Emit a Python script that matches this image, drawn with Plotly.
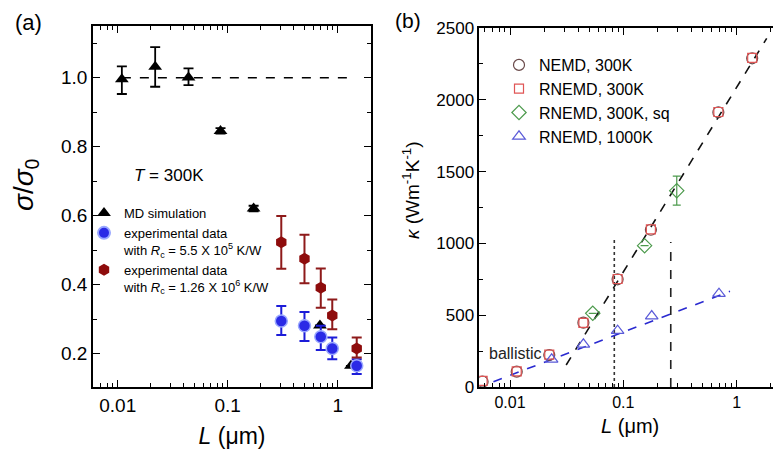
import plotly.graph_objects as go
import numpy as np

OFF = 8  # default page body margin in the browser
W, H = 781 - OFF, 454 - OFF
FONT = "Liberation Sans, Arial, sans-serif"

# ---------------- Panel (a) data ----------------
md_L = [0.0109, 0.0219, 0.044, 0.086, 0.172, 0.69, 1.32]
md_s = [0.996, 1.032, 1.001, 0.846, 0.621, 0.282, 0.165]
md_ep = [0.037, 0.057, 0.026, 0.008, 0.008, 0.0, 0.0]
md_em = [0.043, 0.058, 0.022, 0.008, 0.008, 0.0, 0.0]

exp1_L = [0.307, 0.499, 0.702, 0.893, 1.49]
exp1_s = [0.295, 0.281, 0.249, 0.215, 0.165]
exp1_ep = [0.043, 0.040, 0.032, 0.032, 0.019]
exp1_em = [0.041, 0.044, 0.038, 0.031, 0.024]

exp2_L = [0.307, 0.499, 0.702, 0.893, 1.49]
exp2_s = [0.523, 0.475, 0.391, 0.311, 0.215]
exp2_ep = [0.076, 0.070, 0.056, 0.046, 0.032]
exp2_em = [0.077, 0.071, 0.058, 0.040, 0.026]

ref_L = [0.0109, 1.38]
ref_s = [1.0, 1.0]

# ---------------- Panel (b) data ----------------
nemd_L = [0.00573, 0.01146, 0.0222, 0.0444, 0.089, 0.175, 0.689, 1.37]
nemd_k = [37, 107, 223, 448, 750, 1095, 1913, 2289]
rnemd_L = [0.00573, 0.01146, 0.0222, 0.0444, 0.089, 0.175, 0.689, 1.37]
rnemd_k = [42, 109, 225, 446, 752, 1098, 1915, 2292]
sq_L = [0.0537, 0.154, 0.296]
sq_k = [513, 984, 1367]
sq_err_p = [0, 0, 102]
sq_err_m = [0, 0, 100]
hot_L = [0.0233, 0.0444, 0.089, 0.178, 0.698]
hot_k = [193, 297, 392, 494, 650]

fit300_L = [0.0313, 1.84]
fit300_k = [153, 2428]
fit1000_L = [0.00714, 0.873]
fit1000_k = [37, 666]

dotted_L = [0.0832, 0.0832]
dotted_k = [0, 1025]
dashed_L = [0.262, 0.262]
dashed_k = [0, 1010]


def px(x):
    return (x - OFF) / W


def py(y):
    return 1 - (y - OFF) / H


fig = go.Figure()

# ---- panel (a) traces ----
fig.add_trace(go.Scatter(x=ref_L, y=ref_s, mode="lines", xaxis="x", yaxis="y",
                         line=dict(color="black", width=1.6, dash="dash"),
                         showlegend=False, hoverinfo="skip"))
fig.add_trace(go.Scatter(
    x=md_L, y=md_s, mode="markers", xaxis="x", yaxis="y",
    name="MD simulation", legend="legend",
    marker=dict(symbol="triangle-up", size=12, color="black"),
    error_y=dict(type="data", symmetric=False, array=md_ep, arrayminus=md_em,
                 color="black", thickness=1.8, width=5)))
fig.add_trace(go.Scatter(
    x=exp1_L, y=exp1_s, mode="markers", xaxis="x", yaxis="y",
    name="experimental data<br>with <i>R</i><sub>c</sub> = 5.5 X 10<sup>5</sup> K/W",
    legend="legend",
    marker=dict(symbol="circle", size=12, color="#2a2ae6",
                line=dict(color="#9aa8ff", width=1.5)),
    error_y=dict(type="data", symmetric=False, array=exp1_ep, arrayminus=exp1_em,
                 color="#1c1cd8", thickness=2, width=5)))
fig.add_trace(go.Scatter(
    x=exp2_L, y=exp2_s, mode="markers", xaxis="x", yaxis="y",
    name="experimental data<br>with <i>R</i><sub>c</sub> = 1.26 X 10<sup>6</sup> K/W",
    legend="legend",
    marker=dict(symbol="hexagon", size=12, color="#8e0c0c"),
    error_y=dict(type="data", symmetric=False, array=exp2_ep, arrayminus=exp2_em,
                 color="#8e1a1a", thickness=2, width=5)))

# ---- panel (b) traces ----
fig.add_trace(go.Scatter(x=dotted_L, y=dotted_k, mode="lines", xaxis="x2", yaxis="y2",
                         line=dict(color="#333333", width=1.6, dash="dot"),
                         showlegend=False, hoverinfo="skip"))
fig.add_trace(go.Scatter(x=dashed_L, y=dashed_k, mode="lines", xaxis="x2", yaxis="y2",
                         line=dict(color="#222222", width=1.6, dash="dash"),
                         showlegend=False, hoverinfo="skip"))
fig.add_trace(go.Scatter(x=fit300_L, y=fit300_k, mode="lines", xaxis="x2", yaxis="y2",
                         line=dict(color="#111111", width=1.6, dash="dash"),
                         showlegend=False, hoverinfo="skip"))
fig.add_trace(go.Scatter(x=fit1000_L, y=fit1000_k, mode="lines", xaxis="x2", yaxis="y2",
                         line=dict(color="#2a2ad0", width=1.6, dash="dash"),
                         showlegend=False, hoverinfo="skip"))
fig.add_trace(go.Scatter(
    x=nemd_L, y=nemd_k, mode="markers", xaxis="x2", yaxis="y2",
    name="NEMD, 300K", legend="legend2",
    marker=dict(symbol="circle-open", size=11, color="#6a4a4a", line=dict(width=1.2))))
fig.add_trace(go.Scatter(
    x=rnemd_L, y=rnemd_k, mode="markers", xaxis="x2", yaxis="y2",
    name="RNEMD, 300K", legend="legend2",
    marker=dict(symbol="square-open", size=9, color="#e05555", line=dict(width=1.2))))
fig.add_trace(go.Scatter(
    x=sq_L, y=sq_k, mode="markers", xaxis="x2", yaxis="y2",
    name="RNEMD, 300K, sq", legend="legend2",
    marker=dict(symbol="diamond-open", size=11, color="#4c9a4c", line=dict(width=1.2)),
    error_y=dict(type="data", symmetric=False, array=sq_err_p, arrayminus=sq_err_m,
                 color="#4c9a4c", thickness=1.2, width=4)))
fig.add_trace(go.Scatter(
    x=hot_L, y=hot_k, mode="markers", xaxis="x2", yaxis="y2",
    name="RNEMD, 1000K", legend="legend2",
    marker=dict(symbol="triangle-up-open", size=11, color="#5a5ad8", line=dict(width=1.2))))

minor_a = [m * 10.0 ** e for e in range(-3, 1) for m in range(2, 10)]
minor_b = [m * 10.0 ** e for e in range(-3, 1) for m in range(2, 10)]

axis_common = dict(showline=True, linecolor="black", linewidth=1.6, ticks="inside",
                   tickcolor="black", tickwidth=1.4, showgrid=False, zeroline=False,
                   automargin=False)

fig.update_layout(
    template="none",
    width=W, height=H,
    margin=dict(l=0, r=0, t=0, b=0, pad=0),
    paper_bgcolor="white", plot_bgcolor="white",
    font=dict(family=FONT, color="black"),
    xaxis=dict(axis_common, type="log", domain=[px(93), px(371)],
               range=[-2.225, 0.303], anchor="y", mirror="ticks",
               tickmode="array", tickvals=[0.01, 0.1, 1], ticktext=["0.01", "0.1", "1"],
               ticklen=7, tickfont=dict(size=19),
               minor=dict(ticks="inside", ticklen=4, tickvals=minor_a,
                          tickcolor="black", tickwidth=1.2, showgrid=False),
               title=dict(text="<i>L</i> (μm)", font=dict(size=23), standoff=13)),
    yaxis=dict(axis_common, domain=[py(387), py(25.7)], range=[0.1035, 1.151],
               anchor="x", mirror="ticks", tickmode="array",
               tickvals=[0.2, 0.4, 0.6, 0.8, 1.0], ticktext=["0.2", "0.4", "0.6", "0.8", "1.0"],
               ticklen=7, tickfont=dict(size=19),
               minor=dict(ticks="inside", ticklen=4, dtick=0.1, tick0=0,
                          tickcolor="black", tickwidth=1.2, showgrid=False)),
    xaxis2=dict(axis_common, type="log", domain=[px(479.3), 1.0],
                range=[-2.271, 0.391], anchor="y2", mirror="ticks",
                tickmode="array", tickvals=[0.01, 0.1, 1], ticktext=["0.01", "0.1", "1"],
                ticklen=7, tickfont=dict(size=16),
                minor=dict(ticks="inside", ticklen=4, tickvals=minor_b,
                           tickcolor="black", tickwidth=1.2, showgrid=False),
                title=dict(text="<i>L</i> (μm)", font=dict(size=20), standoff=9)),
    yaxis2=dict(axis_common, domain=[py(387), py(28)], range=[0, 2500],
                anchor="x2", mirror=False, dtick=500, tick0=0,
                ticklen=7, tickfont=dict(size=17),
                minor=dict(ticks="inside", ticklen=4, dtick=250,
                           tickcolor="black", tickwidth=1.2, showgrid=False)),
    legend=dict(x=px(84), y=py(198), xanchor="left", yanchor="top",
                bgcolor="rgba(0,0,0,0)", font=dict(size=13), valign="top",
                tracegroupgap=0, itemsizing="constant"),
    legend2=dict(x=px(499), y=py(48), xanchor="left", yanchor="top",
                 bgcolor="rgba(0,0,0,0)", font=dict(size=16), tracegroupgap=0),
    showlegend=True,
)

annotations = [
    dict(text="(a)", x=px(28), y=py(23), font=dict(size=22)),
    dict(text="(b)", x=px(408), y=py(21), font=dict(size=21)),
    dict(text="<i>T</i> = 300K", x=px(132), y=py(175), xanchor="left", font=dict(size=17)),
    dict(text="ballistic", x=px(487), y=py(353), xanchor="left", font=dict(size=16, color="#222")),
    dict(text="<i>σ</i>/<i>σ</i><sub>0</sub>", x=px(26), y=py(185), textangle=-90,
         font=dict(size=28)),
    dict(text="<i>κ</i> (Wm<sup>-1</sup>K<sup>-1</sup>)", x=px(411), y=py(190), textangle=-90,
         font=dict(size=19)),
]
for a in annotations:
    a.setdefault("xanchor", "center")
    a.update(xref="paper", yref="paper", showarrow=False, yanchor="middle")
fig.update_layout(annotations=annotations)

fig.write_html("out.html")
